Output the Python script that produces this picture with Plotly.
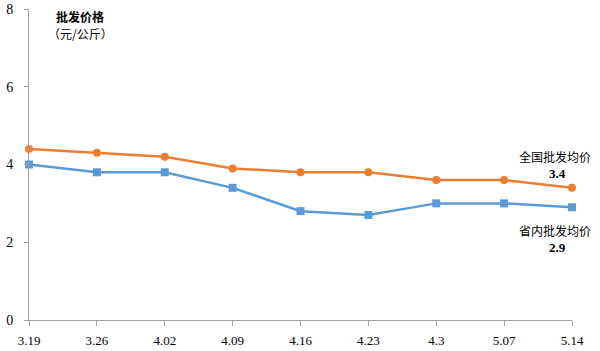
import plotly.graph_objects as go

dates = ["3.19", "3.26", "4.02", "4.09", "4.16", "4.23", "4.3", "5.07", "5.14"]
national = [4.4, 4.3, 4.2, 3.9, 3.8, 3.8, 3.6, 3.6, 3.4]
provincial = [4.0, 3.8, 3.8, 3.4, 2.8, 2.7, 3.0, 3.0, 2.9]
yticks = [0, 2, 4, 6, 8]

idx = list(range(len(dates)))
serif = "Liberation Serif"
cjk = "Noto Sans CJK SC"

L, R, T, B = 29, 572, 9, 320
W, H = 600, 351

fig = go.Figure()
fig.add_trace(go.Scatter(x=idx, y=national, mode="lines+markers", name="全国批发均价",
                         line=dict(color="#ED7D31", width=2.5),
                         marker=dict(symbol="circle", size=8, color="#ED7D31"),
                         cliponaxis=False))
fig.add_trace(go.Scatter(x=idx, y=provincial, mode="lines+markers", name="省内批发均价",
                         line=dict(color="#5B9BD5", width=2.5),
                         marker=dict(symbol="square", size=8, color="#5B9BD5"),
                         cliponaxis=False))

fig.update_layout(
    width=W, height=H,
    margin=dict(l=L, r=W - R, t=T, b=H - B, autoexpand=False),
    paper_bgcolor="white", plot_bgcolor="white",
    showlegend=False,
    font=dict(family=serif, size=12, color="black"),
    xaxis=dict(range=[0, len(dates) - 1], tickvals=idx, ticktext=dates, automargin=False,
               showgrid=False, zeroline=False, showline=True, linecolor="#a0a0a0", linewidth=1,
               ticks="outside", ticklen=5, tickcolor="#a0a0a0", ticklabelstandoff=3,
               tickfont=dict(family=serif, size=13, color="black")),
    yaxis=dict(range=[0, 8], tickvals=yticks, showgrid=False, zeroline=False, automargin=False,
               showline=True, linecolor="#a0a0a0", linewidth=1,
               ticks="outside", ticklen=4, tickcolor="#a0a0a0", ticklabelstandoff=8,
               tickfont=dict(family=serif, size=14, color="black")),
)

anns = [
    dict(x=80, y=16, text="<b>批发价格</b>", size=12, fam=cjk),
    dict(x=80, y=33, text="（元/公斤）", size=12, fam=cjk),
    dict(x=555, y=156, text="全国批发均价", size=12, fam=cjk),
    dict(x=557, y=173, text="<b>3.4</b>", size=13, fam=serif),
    dict(x=555, y=230, text="省内批发均价", size=12, fam=cjk),
    dict(x=557, y=247, text="<b>2.9</b>", size=13, fam=serif),
]
for a in anns:
    fig.add_annotation(x=(a["x"] - L) / (R - L), y=(B - a["y"]) / (B - T),
                       xref="paper", yref="paper",
                       xanchor="center", yanchor="middle", showarrow=False,
                       text=a["text"], font=dict(family=a["fam"], size=a["size"], color="black"))

fig.write_html("out.html")
